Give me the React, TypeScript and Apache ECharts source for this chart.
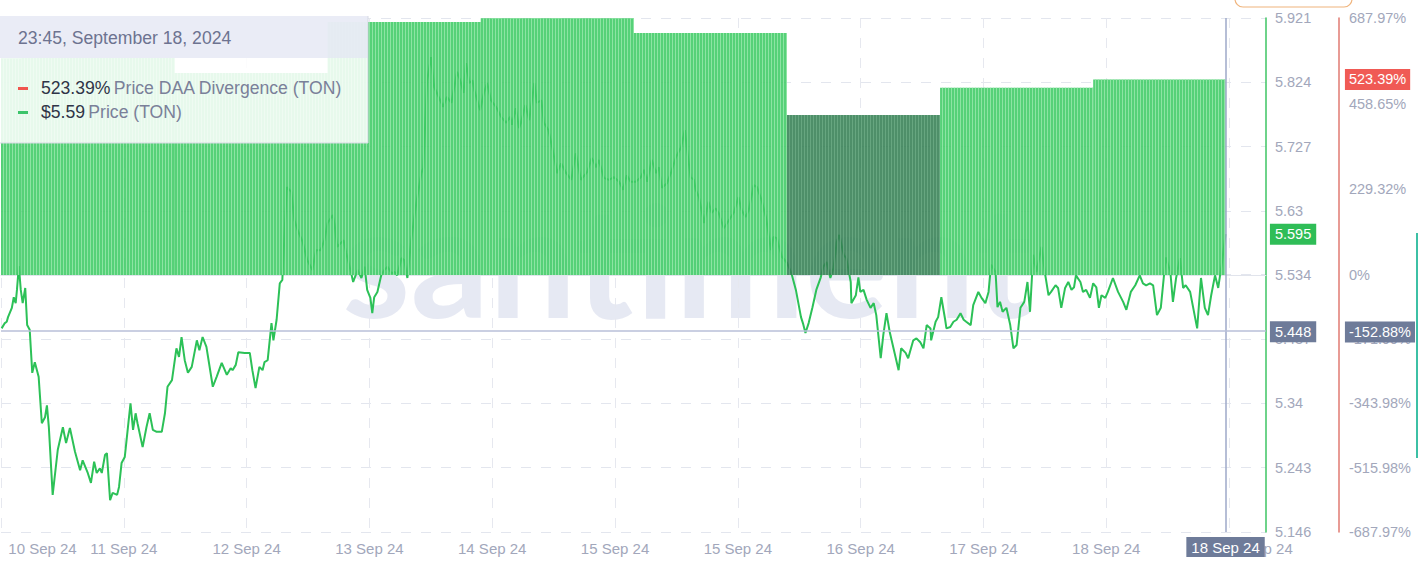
import React, { useRef, useEffect } from 'react';
import * as echarts from 'echarts';

// hours since 10 Sep 2024 00:00 (chart local time) -> TON price
const priceHours = [
  23.9, 24.4, 24.7, 24.9, 25.5, 25.8, 26.1, 26.3, 26.6, 26.9,
  27.2, 27.6, 27.9, 28.3, 28.7, 29.1, 29.7, 30.2, 30.7, 31.0,
  31.3, 31.9, 32.7, 33.5, 34.0, 34.6, 35.4, 36.2, 36.6, 37.4,
  37.9, 38.4, 38.8, 39.3, 39.6, 40.1, 40.4, 40.9, 41.3, 42.0,
  42.3, 42.7, 43.2, 43.7, 44.1, 44.5, 44.9, 45.2, 46.0, 46.6,
  47.1, 47.6, 48.2, 49.0, 49.5, 49.9, 50.6, 51.3, 51.7, 52.1,
  52.6, 53.1, 53.7, 54.5, 54.9, 55.4, 56.0, 57.0, 57.6, 58.4,
  59.2, 59.8, 60.1, 60.6, 61.0, 62.0, 62.8, 63.2, 63.7, 64.3,
  64.8, 65.1, 65.6, 66.2, 66.5, 67.0, 67.5, 67.9, 68.6, 69.3,
  69.8, 70.3, 71.1, 71.8, 72.6, 73.2, 73.9, 74.5, 75.0, 75.8,
  76.1, 76.5, 77.5, 77.9, 78.7, 79.0, 79.7, 80.3, 80.8, 81.2,
  81.7, 82.0, 82.3, 82.8, 83.4, 83.9, 84.4, 85.0, 85.5, 85.9,
  86.6, 87.0, 87.5, 88.1, 88.6, 88.9, 89.7, 90.0, 90.3, 90.6,
  91.2, 91.7, 92.5, 93.1, 93.7, 94.4, 95.3, 95.9, 96.3, 96.7,
  97.2, 97.7, 98.0, 98.9, 99.5, 100.0, 100.6, 101.4, 102.2, 103.0,
  103.6, 103.9, 104.5, 105.0, 105.3, 106.0, 106.6, 107.4, 107.8, 108.5,
  108.9, 109.6, 110.2, 111.0, 111.6, 112.4, 113.2, 113.9, 114.7, 115.7,
  116.4, 117.1, 117.5, 118.3, 119.1, 119.9, 120.7, 121.3, 121.9, 122.5,
  123.3, 124.1, 124.6, 125.1, 125.8, 126.5, 126.9, 127.4, 128.2, 128.8,
  129.6, 130.4, 131.0, 131.3, 131.9, 132.4, 132.7, 133.2, 134.0, 134.7,
  135.2, 135.8, 136.3, 137.1, 137.9, 138.7, 139.4, 139.9, 140.5, 141.0,
  141.8, 142.3, 143.0, 143.7, 144.5, 144.9, 145.4, 146.2, 147.0, 147.7,
  148.4, 149.2, 149.5, 149.9, 150.4, 151.0, 151.6, 152.3, 152.7, 153.2,
  153.8, 154.3, 154.8, 155.2, 155.9, 156.3, 157.0, 157.1, 157.8, 158.2,
  158.5, 159.0, 159.5, 160.1, 160.6, 161.0, 161.7, 162.1, 162.6, 163.1,
  163.7, 164.5, 164.9, 165.6, 166.0, 166.8, 167.3, 167.9, 168.4, 168.9,
  169.5, 169.6, 170.3, 170.7, 171.2, 171.8, 172.0, 172.6, 173.1, 173.6,
  174.2, 174.7, 175.1, 175.8, 176.2, 177.0, 177.5, 178.1, 178.6, 179.0,
  179.7, 180.0, 180.4, 180.8, 181.4, 182.0, 182.5, 183.0, 183.6, 184.2,
  184.7, 185.1, 185.6, 186.1, 186.9, 187.5, 188.0, 188.4, 189.1, 189.5,
  190.0, 190.6, 191.1, 191.6, 192.0, 192.3, 193.0, 193.4, 193.9, 194.5,
  195.0, 195.5, 195.9, 196.3, 196.9, 197.3, 198.1, 198.9, 199.7, 200.2,
  200.9, 201.6, 202.3, 202.8, 203.3, 203.9, 204.4, 205.0, 205.6, 206.1,
  206.4, 207.1, 207.5, 208.0, 208.6, 209.1, 209.5, 210.2, 210.6, 211.3,
  211.9, 212.5, 213.0, 213.5, 214.1, 214.6, 215.2, 215.75,
];

const priceValues = [
  5.453, 5.461, 5.463, 5.470, 5.484, 5.500, 5.491, 5.511, 5.547, 5.511,
  5.491, 5.514, 5.458, 5.451, 5.386, 5.402, 5.380, 5.310, 5.319, 5.337,
  5.304, 5.202, 5.270, 5.304, 5.280, 5.303, 5.267, 5.239, 5.254, 5.235,
  5.220, 5.252, 5.235, 5.242, 5.235, 5.262, 5.265, 5.194, 5.205, 5.202,
  5.214, 5.250, 5.259, 5.304, 5.340, 5.300, 5.325, 5.310, 5.274, 5.304,
  5.325, 5.300, 5.297, 5.297, 5.325, 5.365, 5.375, 5.423, 5.410, 5.440,
  5.405, 5.386, 5.395, 5.435, 5.420, 5.440, 5.425, 5.365, 5.380, 5.401,
  5.383, 5.393, 5.390, 5.398, 5.417, 5.416, 5.416, 5.390, 5.363, 5.395,
  5.390, 5.402, 5.405, 5.461, 5.435, 5.466, 5.521, 5.526, 5.666, 5.659,
  5.616, 5.601, 5.583, 5.556, 5.541, 5.571, 5.571, 5.586, 5.612, 5.624,
  5.609, 5.576, 5.586, 5.567, 5.536, 5.523, 5.541, 5.529, 5.546, 5.511,
  5.499, 5.476, 5.500, 5.508, 5.533, 5.541, 5.546, 5.536, 5.538, 5.533,
  5.559, 5.556, 5.529, 5.586, 5.621, 5.642, 5.687, 5.695, 5.763, 5.827,
  5.862, 5.817, 5.800, 5.787, 5.802, 5.793, 5.840, 5.823, 5.808, 5.853,
  5.823, 5.827, 5.812, 5.782, 5.808, 5.823, 5.797, 5.787, 5.772, 5.763,
  5.772, 5.760, 5.785, 5.755, 5.763, 5.790, 5.767, 5.823, 5.793, 5.797,
  5.763, 5.752, 5.726, 5.687, 5.702, 5.687, 5.677, 5.717, 5.677, 5.689,
  5.710, 5.696, 5.707, 5.680, 5.677, 5.681, 5.674, 5.662, 5.684, 5.674,
  5.674, 5.681, 5.692, 5.674, 5.707, 5.687, 5.696, 5.665, 5.672, 5.687,
  5.711, 5.726, 5.752, 5.726, 5.681, 5.677, 5.662, 5.651, 5.612, 5.644,
  5.627, 5.634, 5.627, 5.604, 5.616, 5.628, 5.651, 5.631, 5.621, 5.631,
  5.669, 5.666, 5.647, 5.621, 5.571, 5.591, 5.589, 5.561, 5.552, 5.536,
  5.511, 5.470, 5.461, 5.446, 5.461, 5.485, 5.511, 5.530, 5.546, 5.553,
  5.529, 5.544, 5.583, 5.594, 5.564, 5.559, 5.523, 5.491, 5.503, 5.530,
  5.508, 5.511, 5.496, 5.484, 5.491, 5.473, 5.408, 5.443, 5.476, 5.448,
  5.423, 5.390, 5.423, 5.416, 5.408, 5.435, 5.438, 5.432, 5.423, 5.458,
  5.453, 5.435, 5.463, 5.470, 5.500, 5.466, 5.453, 5.455, 5.463, 5.466,
  5.476, 5.466, 5.463, 5.458, 5.488, 5.508, 5.499, 5.491, 5.508, 5.549,
  5.538, 5.485, 5.493, 5.478, 5.484, 5.458, 5.423, 5.428, 5.484, 5.493,
  5.523, 5.478, 5.564, 5.538, 5.576, 5.533, 5.503, 5.508, 5.518, 5.514,
  5.484, 5.514, 5.523, 5.511, 5.515, 5.533, 5.523, 5.508, 5.511, 5.499,
  5.521, 5.515, 5.484, 5.503, 5.499, 5.508, 5.529, 5.508, 5.493, 5.481,
  5.508, 5.518, 5.533, 5.521, 5.518, 5.521, 5.518, 5.473, 5.484, 5.533,
  5.560, 5.538, 5.493, 5.529, 5.559, 5.514, 5.518, 5.508, 5.488, 5.453,
  5.529, 5.484, 5.473, 5.503, 5.533, 5.514, 5.553, 5.595,
];

// daily Price DAA Divergence (%), one value per UTC day
const daaDays = [
  '2024-09-10', '2024-09-11', '2024-09-12', '2024-09-13', '2024-09-14',
  '2024-09-15', '2024-09-16', '2024-09-17', '2024-09-18',
];
const daaValues = [580, 581, 541, 677, 687, 648, 428, 501, 523.39];
const highlightedDay = '2024-09-16';

// axis ticks
const xTickHours = [23.8, 43.05, 62.3, 81.55, 100.8, 120.05, 139.3, 158.55, 177.8, 197.05, 216.3];
const priceTicks = [5.146, 5.243, 5.34, 5.437, 5.534, 5.63, 5.727, 5.824, 5.921];
const pctTicks = [-687.97, -515.98, -343.98, -171.99, 0, 229.32, 458.65, 687.97];
const crossPrice = 5.448;
const crossPct = -152.88;

const HOUR = 3600 * 1000;
const BASE = Date.UTC(2024, 8, 10);
const UTC_OFFSET_H = 3;
const X_MIN = BASE + 23.8 * HOUR;
const X_MAX = BASE + 222.08 * HOUR;
const MONTHS = ['Jan', 'Feb', 'Mar', 'Apr', 'May', 'Jun', 'Jul', 'Aug', 'Sep', 'Oct', 'Nov', 'Dec'];

const fmtDay = (t: number) => {
  const d = new Date(t);
  return `${d.getUTCDate()} ${MONTHS[d.getUTCMonth()]} ${String(d.getUTCFullYear()).slice(2)}`;
};

const FONT = '"Liberation Sans", Arial, sans-serif';
const TIP_FONT = `17.6px ${FONT}`;
const TIP_Z = 100;

const App: React.FC = () => {
  const chartRef = useRef<HTMLDivElement>(null);

  useEffect(() => {
    if (!chartRef.current) return;
    document.body.style.margin = '0';
    const chart = echarts.init(chartRef.current, null, { renderer: 'svg' });

    const priceData = priceHours.map((h, i) => [BASE + h * HOUR, priceValues[i]]);
    const lastTime = priceData[priceData.length - 1][0] as number;
    const lastPrice = priceValues[priceValues.length - 1];
    const lastDaa = daaValues[daaValues.length - 1];

    const daaData = daaDays.map((day, i) => {
      const start = Date.parse(day + 'T00:00:00Z') + UTC_OFFSET_H * HOUR;
      const end = Math.min(start + 24 * HOUR, lastTime);
      return [start, end, daaValues[i], day === highlightedDay ? 1 : 0];
    });

    const xTicks = xTickHours.map((h) => BASE + h * HOUR);
    const priceLabelValues = [...priceTicks, lastPrice, crossPrice];
    const pctLabelValues = [...pctTicks, lastDaa, crossPct];

    // hover tooltip box, top left
    const tip = (el: any) => ({ ...el, z: TIP_Z, silent: true });
    const tooltipEls = [
      tip({ type: 'rect', shape: { x: 0, y: 16, width: 368, height: 42 }, style: { fill: 'rgba(233, 235, 246, 0.97)' } }),
      tip({ type: 'rect', shape: { x: 0, y: 58, width: 368, height: 85 }, style: { fill: 'rgba(255, 255, 255, 0.86)' } }),
      tip({ type: 'line', shape: { x1: 368, y1: 16, x2: 368, y2: 143 }, style: { stroke: '#d6d9e4', lineWidth: 1 } }),
      tip({ type: 'line', shape: { x1: 0, y1: 143, x2: 368, y2: 143 }, style: { stroke: '#d6d9e4', lineWidth: 1 } }),
      tip({
        type: 'text',
        style: {
          x: 18, y: 38, text: '23:45, September 18, 2024', fill: '#6d7390',
          font: TIP_FONT, verticalAlign: 'middle',
        },
      }),
      tip({ type: 'rect', shape: { x: 18, y: 87, width: 10, height: 3 }, style: { fill: '#f0554e' } }),
      tip({
        type: 'text',
        style: {
          x: 41, y: 88, verticalAlign: 'middle',
          text: `{v|${lastDaa.toFixed(2)}%} {n|Price DAA Divergence (TON)}`,
          rich: {
            v: { fill: '#2f3447', font: TIP_FONT },
            n: { fill: '#7a8099', font: TIP_FONT },
          },
        },
      }),
      tip({ type: 'rect', shape: { x: 18, y: 111, width: 10, height: 3 }, style: { fill: '#3cc46a' } }),
      tip({
        type: 'text',
        style: {
          x: 41, y: 112, verticalAlign: 'middle',
          text: `{v|$${lastPrice.toFixed(2)}} {n|Price (TON)}`,
          rich: {
            v: { fill: '#2f3447', font: TIP_FONT },
            n: { fill: '#7a8099', font: TIP_FONT },
          },
        },
      }),
    ];

    const option: echarts.EChartsOption = {
      animation: false,
      textStyle: { fontFamily: FONT },
      grid: { left: 1, right: 150, top: 18, bottom: 42, containLabel: false },
      xAxis: {
        type: 'value',
        min: X_MIN,
        max: X_MAX,
        axisLine: { show: true, lineStyle: { color: '#e1e4ec', width: 1 } },
        axisTick: { show: false, customValues: xTicks },
        splitLine: { show: true, lineStyle: { color: '#e6e8ef', type: [10, 10] } },
        axisLabel: {
          customValues: xTicks,
          color: '#a2a7bb',
          fontSize: 15,
          margin: 9,
          formatter: (v: number) => {
            if (v === xTicks[0]) return `{first|${fmtDay(v)}}`;
            if (v === xTicks[xTicks.length - 1]) return `{last|${fmtDay(v)}}`;
            return fmtDay(v);
          },
          rich: {
            first: { padding: [0, 0, 0, 83], fontSize: 15, color: '#a2a7bb' },
            last: { padding: [0, 0, 0, 59], fontSize: 15, color: '#a2a7bb' },
          },
        },
      },
      yAxis: [
        {
          type: 'value',
          position: 'right',
          min: 5.146,
          max: 5.921,
          axisLine: { show: true, lineStyle: { color: '#3ec463', width: 1.5 } },
          axisTick: { show: false, customValues: priceTicks },
          splitLine: { show: true, lineStyle: { color: '#e3e6ee', type: [10, 10] } },
          axisLabel: {
            customValues: priceLabelValues,
            margin: 4,
            color: '#a2a7bb',
            fontSize: 14.5,
            formatter: (v: number) => {
              if (v === lastPrice) return `{g|${v.toFixed(3)}}`;
              if (v === crossPrice) return `{s|${v.toFixed(3)}}`;
              return `{n|${v}}`;
            },
            rich: {
              n: { padding: [3, 5], color: '#a2a7bb', fontSize: 14.5 },
              g: { padding: [3, 5], color: '#fff', backgroundColor: '#2fbd57', fontSize: 14.5 },
              s: { padding: [3, 5], color: '#fff', backgroundColor: '#6e7b99', fontSize: 14.5 },
            },
          },
        },
        {
          type: 'value',
          position: 'right',
          offset: 73,
          min: -687.97,
          max: 687.97,
          axisLine: { show: true, lineStyle: { color: '#e07a72', width: 1.5 } },
          axisTick: { show: false, customValues: pctTicks },
          splitLine: { show: false },
          axisLabel: {
            customValues: pctLabelValues,
            margin: 6,
            color: '#a2a7bb',
            fontSize: 14.5,
            formatter: (v: number) => {
              const txt = v === 0 ? '0%' : `${v.toFixed(2)}%`;
              if (v === lastDaa) return `{r|${txt}}`;
              if (v === crossPct) return `{s|${txt}}`;
              return `{n|${txt}}`;
            },
            rich: {
              n: { padding: [3, 4], color: '#a2a7bb', fontSize: 14.5 },
              r: { padding: [3, 4], color: '#fff', backgroundColor: '#f05a55', fontSize: 14.5 },
              s: { padding: [3, 4], color: '#fff', backgroundColor: '#6e7b99', fontSize: 14.5 },
            },
          },
        },
      ],
      series: [
        {
          name: 'Price (TON)',
          type: 'line',
          yAxisIndex: 0,
          data: priceData,
          showSymbol: false,
          z: 2,
          lineStyle: { color: '#2cc157', width: 2 },
          markLine: {
            silent: true,
            symbol: ['none', 'none'],
            animation: false,
            data: [
              {
                xAxis: lastTime,
                lineStyle: { color: '#9ea8c8', width: 1.5, type: 'solid' },
                label: {
                  show: true,
                  position: 'start',
                  distance: 5,
                  formatter: fmtDay(lastTime),
                  backgroundColor: '#6e7b99',
                  color: '#fff',
                  fontSize: 15,
                  padding: [3, 5, 2, 5],
                },
              },
              {
                yAxis: crossPrice,
                lineStyle: { color: '#b8bfd8', width: 1.5, type: 'solid' },
                label: { show: false },
              },
            ],
          },
        },
        {
          name: 'Price DAA Divergence (TON)',
          type: 'custom',
          yAxisIndex: 1,
          z: 3,
          clip: true,
          encode: { x: [0, 1], y: 2 },
          data: daaData,
          renderItem: (params: any, api: any) => {
            const tl = api.coord([api.value(0), api.value(2)]);
            const br = api.coord([api.value(1), 0]);
            const cs = params.coordSys;
            const x0 = Math.max(tl[0], cs.x);
            const x1 = Math.min(br[0], cs.x + cs.width);
            if (x1 <= x0) return null;
            const top = Math.max(tl[1], cs.y);
            const h = br[1] - top;
            const dark = api.value(3) === 1;
            const children: any[] = [
              {
                type: 'rect',
                shape: { x: x0, y: top, width: x1 - x0, height: h },
                style: { fill: dark ? '#357f54' : '#3fcb65', opacity: 0.88 },
              },
            ];
            for (let x = Math.ceil(x0 / 3) * 3; x < x1 - 0.5; x += 3) {
              children.push({
                type: 'rect',
                shape: { x, y: top, width: 1, height: h },
                style: { fill: dark ? '#6aa983' : '#93e6a7', opacity: 0.9 },
              });
            }
            return { type: 'group', children };
          },
        },
      ],
      graphic: [
        {
          type: 'text',
          z: 0,
          silent: true,
          style: {
            x: 687,
            y: 258,
            text: 'santiment',
            align: 'center',
            verticalAlign: 'middle',
            font: 'bold 155px Lato, "Noto Sans", sans-serif',
            fill: 'rgba(214, 219, 235, 0.6)',
          },
        },
        ...tooltipEls,
        {
          type: 'rect',
          z: 50,
          silent: true,
          shape: { x: 1235, y: -15, width: 117, height: 22, r: 8 },
          style: { fill: '#fff', stroke: '#f0b47c', lineWidth: 1.2 },
        },
        {
          type: 'line',
          z: 50,
          silent: true,
          shape: { x1: 1417, y1: 233, x2: 1417, y2: 458 },
          style: { stroke: '#3cc0a5', lineWidth: 2 },
        },
      ],
    };

    chart.setOption(option);
    return () => chart.dispose();
  }, []);

  return <div ref={chartRef} style={{ width: 1418, height: 574 }} />;
};

export default App;
